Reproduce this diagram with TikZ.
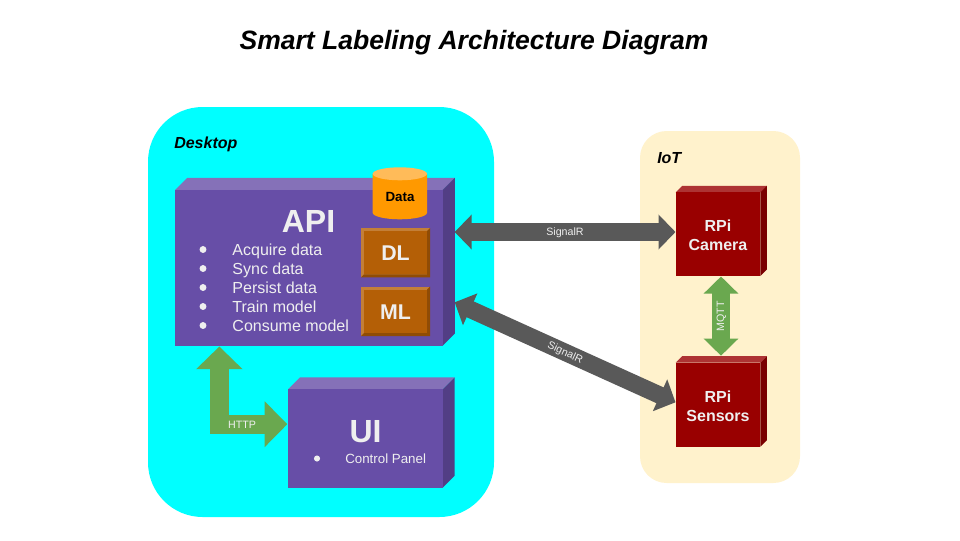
\documentclass[tikz,border=0pt]{standalone}
\usepackage{fontspec}
\setmainfont{Liberation Sans}
\usetikzlibrary{arrows.meta,calc}
\definecolor{cyanbg}{HTML}{00FFFF}
\definecolor{iotbg}{HTML}{FFF2CC}
\definecolor{purp}{HTML}{674EA7}
\definecolor{purpT}{HTML}{8571B8}
\definecolor{purpS}{HTML}{523E85}
\definecolor{rd}{HTML}{990000}
\definecolor{rdT}{HTML}{AD3333}
\definecolor{rdS}{HTML}{7A0000}
\definecolor{brn}{HTML}{B45F06}
\definecolor{brnL}{HTML}{C37F38}
\definecolor{brnD}{HTML}{904C05}
\definecolor{orng}{HTML}{FF9900}
\definecolor{orngT}{HTML}{FFBB59}
\definecolor{arrgray}{HTML}{595959}
\definecolor{arrgreen}{HTML}{6AA84F}
\definecolor{txtw}{HTML}{EFEFEF}
\newcommand{\cubebox}[9]{% name x1 y1 x2 y2 depth front top side
  \fill[#8] (#2,#3) -- ++(#6,-#6) -- (#4+#6,#3-#6) -- (#4,#3) -- cycle;
  \fill[#9] (#4,#3) -- (#4+#6,#3-#6) -- (#4+#6,#5-#6) -- (#4,#5) -- cycle;
  \node[rectangle,inner sep=0pt,fill=#7,minimum width={(#4-#2)*0.75pt},minimum height={(#5-#3)*0.75pt}] (#1) at ({(#2+#4)/2},{(#3+#5)/2}) {};
}
\newcommand{\bevelbox}[5]{% name x1 y1 x2 y2
  \fill[brnL] (#2,#3) rectangle (#4,#5);
  \fill[brnD] (#2,#5) -- (#2+3,#5-3) -- (#4-3,#5-3) -- (#4-3,#3+3) -- (#4,#3) -- (#4,#5) -- cycle;
  \node[rectangle,inner sep=0pt,fill=brn,minimum width={(#4-#2-6)*0.75pt},minimum height={(#5-#3-6)*0.75pt}] (#1) at ({(#2+#4)/2},{(#3+#5)/2}) {};
}
\tikzset{
  blockgray/.style={draw=arrgray,line width=13pt,{Triangle[length=12.75pt,width=25.5pt]}-{Triangle[length=12.75pt,width=25.5pt]}},
  blockgreen/.style={draw=arrgreen,line width=13.6pt,{Triangle[length=12.75pt,width=25.2pt]}-{Triangle[length=12.75pt,width=25.2pt]}},
  blockhttp/.style={draw=arrgreen,line width=14.1pt,{Triangle[length=17pt,width=33.8pt]}-{Triangle[length=17pt,width=33.4pt]}},
  titletext/.style={font=\fontsize{19.9}{24}\selectfont\bfseries\itshape,text=black},
  grouptext/.style={font=\fontsize{12}{14}\selectfont\bfseries\itshape,text=black,anchor=base west,inner sep=0pt},
  bigtext/.style={font=\fontsize{24}{28}\selectfont\bfseries,text=txtw,inner sep=0pt},
  midtext/.style={font=\fontsize{16}{18}\selectfont\bfseries,text=txtw,inner sep=0pt},
  rpitext/.style={font=\fontsize{12}{14.25}\selectfont\bfseries,text=txtw,align=center,inner sep=0pt},
  itemtext/.style={font=\fontsize{12}{14}\selectfont,text=txtw,anchor=base west,inner sep=0pt},
  smalltext/.style={font=\fontsize{10}{12}\selectfont,text=txtw,anchor=base west,inner sep=0pt},
  dot/.style={circle,fill=txtw,inner sep=0pt,minimum size=5.2pt},
  conntext/.style={font=\fontsize{8}{10}\selectfont,text=txtw,inner sep=0pt},
}
\begin{document}
\begin{tikzpicture}[x=0.75pt,y=-0.75pt]
\useasboundingbox (0,0) rectangle (960,540);
\fill[white] (0,0) rectangle (960,540);
\node[titletext] (title) at (474,43) {Smart Labeling Architecture Diagram};
% panels
\fill[cyanbg,rounded corners=41pt] (148,107) rectangle (494,517);
\fill[iotbg,rounded corners=20pt] (640,131) rectangle (800,483);
\node[grouptext] (desktop) at (174,148) {Desktop};
\node[grouptext] (iot) at (657,163) {IoT};
% boxes
\cubebox{api}{175}{190}{442.7}{345.7}{12.2}{purp}{purpT}{purpS}
\cubebox{ui}{288}{389.3}{442.7}{487.7}{12}{purp}{purpT}{purpS}
\cubebox{cam}{675.7}{192.3}{760.3}{276}{6.5}{rd}{rdT}{rdS}
\cubebox{sens}{675.7}{362.7}{760.3}{446.7}{6.5}{rd}{rdT}{rdS}
\bevelbox{dl}{361}{228}{430}{277.3}
\bevelbox{ml}{361}{286.7}{430}{336}
% cylinder
\fill[orng] (372.7,174) -- (372.7,212.8) arc[start angle=180,end angle=0,x radius=27.15,y radius=6.5] -- (427,174) -- cycle;
\fill[orngT] (399.85,173.8) ellipse[x radius=27.15,y radius=6.5];
\node[inner sep=0pt,font=\fontsize{10}{12}\selectfont\bfseries,text=black] (data) at (400,197) {Data};
% text
\node[bigtext] (apit) at (308.5,221) {API};
\node[midtext] at ($(dl)+(0,1)$) {DL};
\node[midtext] at ($(ml)+(0,1)$) {ML};
\foreach \yy/\tt in {255/Acquire data,274/Sync data,293/Persist data,312/Train model,331/Consume model}{
  \node[dot] at (203,\yy-5.5) {};
  \node[itemtext] at (232.2,\yy) {\tt};
}
\node[bigtext] (uit) at (365.5,431.5) {UI};
\node[dot,minimum size=4.6pt] (uidot) at (317,458.5) {};
\node[smalltext] (cp) at (345,463) {Control Panel};
\node[rpitext] at ($(cam)+(0,1)$) {RPi\\Camera};
\node[rpitext] at ($(sens)+(0,1.5)$) {RPi\\Sensors};
% connectors
\coordinate (apiA) at (454.7,232);
\coordinate (apiB) at (454.7,302.3);
\coordinate (apiC) at (219.35,346.5);
\coordinate (camW) at (675.5,232);
\coordinate (sensW) at (675.5,402.3);
\coordinate (camS) at (721,276.5);
\coordinate (sensN) at (721,355.7);
\coordinate (uiW) at (287.3,424.2);
\draw[blockgray] (apiA) -- (camW);
\draw[blockgray] (apiB) -- (sensW);
\draw[blockgreen] (camS) -- (sensN);
\draw[blockhttp] (apiC) |- (uiW);
\node[conntext] (l1) at (565,233) {SignalR};
\node[conntext,rotate=-24.4] (l2) at (565,353) {SignalR};
\node[conntext,rotate=90] (l3) at (721.5,316.5) {MQTT};
\node[conntext] (l4) at (242,424.8) {HTTP};
\end{tikzpicture}
\end{document}
